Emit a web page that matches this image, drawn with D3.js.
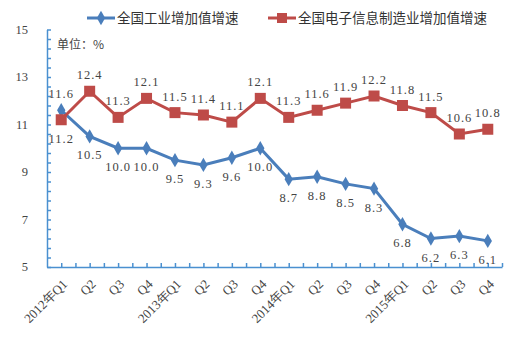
<!DOCTYPE html>
<html>
<head>
<meta charset="utf-8">
<script src="https://cdn.jsdelivr.net/npm/d3@7"></script>
<style>
  body { margin: 0; background: #fff; }
</style>
</head>
<body>
<div id="chart"></div>
<script>
const quarters = ["2012年Q1", "Q2", "Q3", "Q4", "2013年Q1", "Q2", "Q3", "Q4",
  "2014年Q1", "Q2", "Q3", "Q4", "2015年Q1", "Q2", "Q3", "Q4"];
const industry = [11.6, 10.5, 10.0, 10.0, 9.5, 9.3, 9.6, 10.0, 8.7, 8.8, 8.5, 8.3, 6.8, 6.2, 6.3, 6.1];
const electronics = [11.2, 12.4, 11.3, 12.1, 11.5, 11.4, 11.1, 12.1, 11.3, 11.6, 11.9, 12.2, 11.8, 11.5, 10.6, 10.8];
const yTicks = [5, 7, 9, 11, 13, 15];
const seriesNames = ["全国工业增加值增速", "全国电子信息制造业增加值增速"];

const width = 520, height = 352;
const blue = "#4a7ebb", red = "#be4b48", axisColor = "#4a90d0";
const serif = "'Liberation Serif', 'DejaVu Serif', serif";
const cjk = "'Noto Sans CJK SC', sans-serif";

const svg = d3.select("#chart").append("svg")
  .attr("width", width)
  .attr("height", height);

const x = d3.scaleLinear().domain([-0.5, quarters.length - 0.5]).range([47, 502]);
const y = d3.scaleLinear().domain([5, 15]).range([267, 29.5]);

// Y axis, ticks pointing inward
svg.append("g")
  .attr("transform", "translate(47,0)")
  .call(d3.axisLeft(y).tickValues(d3.range(5, 15.01, 0.4)).tickSizeInner(-4).tickSizeOuter(0).tickFormat(""))
  .call(g => g.selectAll("line, path").attr("stroke", axisColor).attr("stroke-width", 1.5));

svg.selectAll(".ylab")
  .data(yTicks)
  .enter()
  .append("text")
  .attr("x", 28)
  .attr("y", d => y(d) + 4)
  .attr("text-anchor", "end")
  .attr("font-family", serif)
  .attr("font-size", "12.5px")
  .attr("fill", "#444")
  .text(d => d);

// X axis
svg.append("g")
  .attr("transform", "translate(0,267)")
  .call(d3.axisBottom(x).tickValues(d3.range(0, quarters.length, 0.5)).tickSizeInner(-4).tickSizeOuter(0).tickFormat(""))
  .call(g => g.selectAll("line, path").attr("stroke", axisColor).attr("stroke-width", 1.5));

svg.selectAll(".xlab")
  .data(quarters)
  .enter()
  .append("text")
  .attr("transform", (d, i) => `translate(${x(i) + 7},${285}) rotate(-45)`)
  .attr("text-anchor", "end")
  .attr("font-family", serif)
  .attr("font-size", "13px")
  .attr("fill", "#444")
  .text(d => d);

// Lines
const line = d3.line().x((d, i) => x(i)).y(d => y(d));

svg.append("path")
  .datum(industry)
  .attr("d", line)
  .attr("fill", "none")
  .attr("stroke", blue)
  .attr("stroke-width", 3);

svg.append("path")
  .datum(electronics)
  .attr("d", line)
  .attr("fill", "none")
  .attr("stroke", red)
  .attr("stroke-width", 3);

// Markers
const diamond = d3.symbol().type(d3.symbolDiamond).size(60);
svg.selectAll(".dia")
  .data(industry)
  .enter()
  .append("path")
  .attr("d", diamond)
  .attr("transform", (d, i) => `translate(${x(i)},${y(d)})`)
  .attr("fill", blue);

svg.selectAll(".sq")
  .data(electronics)
  .enter()
  .append("rect")
  .attr("x", (d, i) => x(i) - 5.5)
  .attr("y", d => y(d) - 5.5)
  .attr("width", 11)
  .attr("height", 11)
  .attr("fill", red);

// Value labels: industry below (first above), electronics above (first below)
svg.selectAll(".lab1")
  .data(industry)
  .enter()
  .append("text")
  .attr("x", (d, i) => x(i))
  .attr("y", (d, i) => i === 0 ? y(d) - 12 : y(d) + 23)
  .attr("text-anchor", "middle")
  .attr("font-family", serif)
  .attr("font-size", "12.5px")
  .attr("letter-spacing", "1px")
  .attr("fill", "#444")
  .text(d => d.toFixed(1));

svg.selectAll(".lab2")
  .data(electronics)
  .enter()
  .append("text")
  .attr("x", (d, i) => x(i))
  .attr("y", (d, i) => i === 0 ? y(d) + 23 : y(d) - 12)
  .attr("text-anchor", "middle")
  .attr("font-family", serif)
  .attr("font-size", "12.5px")
  .attr("letter-spacing", "1px")
  .attr("fill", "#444")
  .text(d => d.toFixed(1));

// Unit note
svg.append("text")
  .attr("x", 57)
  .attr("y", 49)
  .attr("font-family", cjk)
  .attr("font-size", "12px")
  .attr("fill", "#444")
  .text("单位：%");

// Legend
const legend = svg.append("g");
const legendItems = [
  { name: seriesNames[0], color: blue, x0: 87, shape: "diamond" },
  { name: seriesNames[1], color: red, x0: 268, shape: "square" }
];
legendItems.forEach(it => {
  legend.append("line")
    .attr("x1", it.x0).attr("x2", it.x0 + 28)
    .attr("y1", 18).attr("y2", 18)
    .attr("stroke", it.color).attr("stroke-width", 3);
  if (it.shape === "diamond") {
    legend.append("path")
      .attr("d", diamond)
      .attr("transform", `translate(${it.x0 + 14},18)`)
      .attr("fill", it.color);
  } else {
    legend.append("rect")
      .attr("x", it.x0 + 9).attr("y", 13)
      .attr("width", 10).attr("height", 10)
      .attr("fill", it.color);
  }
  legend.append("text")
    .attr("x", it.x0 + 30)
    .attr("y", 23)
    .attr("font-family", cjk)
    .attr("font-size", "13.5px")
    .attr("fill", "#333")
    .text(it.name);
});
</script>
</body>
</html>
